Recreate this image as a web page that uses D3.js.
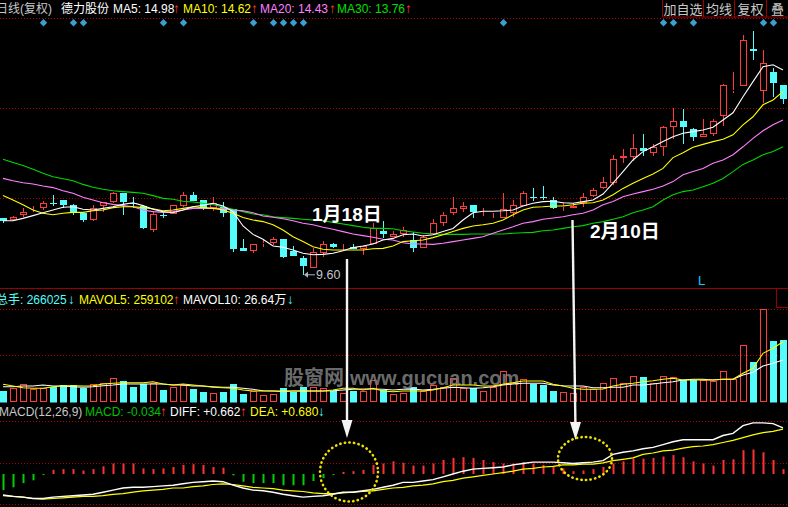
<!DOCTYPE html>
<html><head><meta charset="utf-8">
<script src="https://cdn.jsdelivr.net/npm/d3@7/dist/d3.min.js"></script>
<style>
html,body{margin:0;padding:0;background:#000;overflow:hidden}
svg{display:block}
text{font-family:"Liberation Sans","Noto Sans CJK SC",sans-serif}
</style></head><body>
<svg id="c" width="788" height="507"></svg>
<script>
// ---------------- DATA ----------------
const dayIndex = d3.range(79); // trading days shown, oldest -> newest
const open = [11.01,10.96,11.09,11.24,11.28,11.40,11.47,11.35,11.14,10.97,
 11.33,11.43,11.64,11.40,11.33,10.72,11.10,11.11,11.33,11.60,
 11.47,11.26,11.30,11.24,10.28,10.20,10.38,10.40,10.50,10.20,
 10.03,9.76,10.14,10.38,10.31,10.30,10.25,10.36,10.70,10.54,
 10.61,10.47,10.28,10.61,10.90,11.15,11.24,11.35,11.17,11.06,
 11.03,11.15,11.33,11.54,11.54,11.47,11.29,11.26,11.39,11.58,
 11.78,11.89,12.51,12.54,12.76,12.65,12.80,13.29,13.45,13.25,
 13.05,13.11,13.58,14.20,14.33,15.24,14.20,14.68,14.35];
const close = [10.95,11.04,11.17,11.25,11.39,11.38,11.35,11.18,10.97,11.26,
 11.41,11.64,11.43,11.38,10.78,11.12,11.09,11.34,11.60,11.44,
 11.26,11.39,11.15,10.25,10.20,10.36,10.40,10.49,10.05,10.08,
 9.83,10.16,10.36,10.30,10.32,10.25,10.33,10.76,10.61,10.61,
 10.72,10.28,10.55,10.89,11.10,11.26,11.32,11.18,11.18,11.07,
 11.24,11.34,11.64,11.52,11.52,11.28,11.31,11.33,11.55,11.72,
 11.91,12.49,12.57,12.76,12.70,12.79,13.29,13.45,13.30,13.05,
 13.11,13.45,14.35,14.21,15.47,15.20,14.89,14.40,14.00];
const high = [11.01,11.07,11.26,11.32,11.45,11.60,11.47,11.37,11.14,11.35,
 11.41,11.68,11.64,11.54,11.35,11.20,11.15,11.34,11.66,11.66,
 11.47,11.54,11.41,11.24,10.50,10.36,10.47,10.54,10.50,10.32,
 10.06,10.26,10.45,10.40,10.36,10.37,10.33,10.89,10.95,10.70,
 10.79,10.68,10.60,10.99,11.18,11.54,11.41,11.35,11.26,11.14,
 11.64,11.47,11.70,11.78,11.83,11.55,11.43,11.39,11.64,11.76,
 12.05,12.60,12.74,13.12,13.12,12.87,13.32,13.76,13.75,13.28,
 13.50,13.49,14.37,14.68,15.60,15.70,15.22,14.76,14.35];
const low = [10.90,10.96,11.04,11.18,11.22,11.33,11.26,11.10,10.93,10.95,
 11.18,11.39,11.10,11.26,10.75,10.66,11.03,11.11,11.30,11.44,
 11.22,11.20,11.05,10.18,10.20,10.14,10.30,10.35,10.02,10.08,
 9.60,9.76,10.05,10.28,10.20,10.25,10.09,10.36,10.52,10.54,
 10.55,10.18,10.28,10.61,10.82,11.10,11.18,11.03,11.08,11.03,
 11.03,11.05,11.33,11.44,11.47,11.24,11.20,11.26,11.30,11.55,
 11.74,11.85,12.40,12.45,12.57,12.57,12.57,13.00,12.87,12.95,
 13.04,13.07,13.32,14.14,14.33,14.97,13.89,14.05,13.86];
const ma5 = [10.95,10.95,11.01,11.08,11.15,11.22,11.29,11.30,11.24,11.22,
 11.26,11.30,11.36,11.40,11.33,11.24,11.18,11.15,11.22,11.30,
 11.34,11.39,11.32,11.18,10.82,10.61,10.49,10.32,10.29,10.22,
 10.14,10.10,10.11,10.14,10.20,10.28,10.32,10.37,10.47,10.51,
 10.60,10.62,10.57,10.60,10.68,10.76,10.97,11.15,11.19,11.19,
 11.20,11.22,11.32,11.39,11.43,11.44,11.40,11.39,11.43,11.47,
 11.62,11.89,12.18,12.47,12.68,12.80,12.93,13.05,13.14,13.18,
 13.22,13.29,13.47,13.65,14.05,14.43,14.80,14.85,14.72];
const ma10 = [11.58,11.47,11.35,11.22,11.14,11.10,11.14,11.16,11.16,11.20,
 11.22,11.28,11.30,11.30,11.28,11.25,11.20,11.22,11.26,11.30,
 11.28,11.26,11.22,11.14,11.03,10.97,10.93,10.85,10.72,10.55,
 10.43,10.30,10.24,10.22,10.22,10.22,10.22,10.25,10.26,10.32,
 10.43,10.45,10.47,10.53,10.60,10.68,10.76,10.82,10.85,10.89,
 10.97,11.10,11.22,11.29,11.30,11.32,11.32,11.35,11.39,11.40,
 11.47,11.60,11.76,11.89,12.01,12.12,12.26,12.53,12.65,12.79,
 12.86,12.93,12.99,13.10,13.35,13.55,13.85,13.97,14.18];
const ma20 = [12.01,11.95,11.90,11.87,11.82,11.78,11.70,11.64,11.54,11.47,
 11.40,11.36,11.33,11.30,11.22,11.18,11.16,11.18,11.22,11.26,
 11.26,11.26,11.26,11.22,11.20,11.15,11.07,11.04,11.00,10.95,
 10.89,10.85,10.79,10.74,10.68,10.62,10.58,10.54,10.49,10.47,
 10.40,10.37,10.37,10.36,10.39,10.43,10.47,10.51,10.55,10.64,
 10.72,10.80,10.89,10.93,10.99,11.02,11.05,11.10,11.14,11.22,
 11.35,11.43,11.55,11.62,11.68,11.74,11.82,11.93,12.10,12.18,
 12.26,12.39,12.47,12.60,12.80,13.01,13.20,13.35,13.47];
const ma30 = [12.49,12.41,12.33,12.24,12.14,12.05,12.00,11.95,11.86,11.79,
 11.74,11.70,11.68,11.66,11.64,11.58,11.51,11.49,11.44,11.42,
 11.39,11.35,11.30,11.24,11.18,11.12,11.10,11.05,11.03,11.01,
 10.99,10.97,10.95,10.91,10.87,10.83,10.79,10.76,10.76,10.75,
 10.70,10.67,10.64,10.62,10.61,10.61,10.61,10.62,10.62,10.62,
 10.62,10.64,10.65,10.66,10.70,10.72,10.76,10.80,10.83,10.89,
 10.93,10.99,11.05,11.15,11.22,11.30,11.47,11.60,11.68,11.72,
 11.80,11.89,12.01,12.18,12.36,12.47,12.60,12.68,12.80];
const volume = [45500,57300,75900,52900,57300,64200,71600,71600,57300,75900,
 79000,100600,88900,64200,75900,81600,49900,64200,71600,52900,
 42500,35600,42500,75900,32500,45500,28200,32500,57300,42500,
 64200,64200,57300,45500,35600,45500,45500,93300,49900,32500,
 35600,64200,45500,71600,64200,100600,57300,59900,45500,64200,
 132300,79000,96300,75900,71600,45500,39900,35600,61600,52900,
 79000,100600,79000,110600,106300,81600,110600,105000,93300,93300,
 93300,88900,132300,96300,245100,172700,401300,262400,266025];
const mavol5 = [74600,67200,59900,57300,57300,64200,68500,68500,67200,68500,
 75900,79000,81600,81600,81600,85900,75900,71600,75900,71600,
 67200,61600,59900,57300,49900,45500,45500,45500,42500,45500,
 45500,45500,45500,49900,57300,57300,49900,57300,45500,42500,
 45500,45500,45500,49900,59900,71600,71600,71600,67200,67200,
 74600,81600,88900,88900,88900,74600,67200,57300,52900,52900,
 54200,67200,74600,79000,85900,90200,96300,100600,93300,93300,
 93300,93300,96300,96300,122300,144000,209100,230800,259102];
const mavol10 = [64200,64200,67200,67200,71600,67200,67200,64200,61600,64200,
 68500,71600,75900,75900,75900,75900,75900,71600,71600,67200,
 67200,64200,61600,61600,57300,52900,46900,45500,45500,45500,
 45500,45500,45500,46900,49900,52900,54200,54200,52900,49900,
 52900,54200,49900,52900,57300,61600,59900,57300,59900,64200,
 71600,75900,79000,79000,79000,71600,68500,67200,67200,59900,
 59900,61600,61600,71600,71600,75900,81600,85900,93300,96300,
 96300,93300,96300,96300,115000,126700,154000,165700,180000];
const macd = [-0.23,-0.19,-0.13,-0.09,-0.015,0.06,0.07,0.07,0.05,0.07,
 0.11,0.15,0.15,0.15,0.08,0.07,0.08,0.10,0.13,0.14,
 0.13,0.10,0.09,-0.02,-0.11,-0.13,-0.13,-0.13,-0.16,-0.16,
 -0.16,-0.10,-0.06,-0.01,0.03,0.04,0.06,0.13,0.15,0.18,
 0.16,0.12,0.12,0.15,0.20,0.23,0.24,0.23,0.20,0.17,
 0.15,0.15,0.17,0.15,0.13,0.10,0.08,0.04,0.05,0.07,
 0.10,0.15,0.18,0.22,0.22,0.23,0.25,0.27,0.24,0.18,
 0.15,0.12,0.20,0.21,0.34,0.35,0.31,0.20,0.07];
const diff = [-0.30,-0.32,-0.33,-0.35,-0.35,-0.33,-0.32,-0.31,-0.30,-0.29,
 -0.26,-0.23,-0.20,-0.19,-0.19,-0.18,-0.17,-0.16,-0.14,-0.12,
 -0.11,-0.10,-0.11,-0.16,-0.20,-0.23,-0.24,-0.26,-0.29,-0.31,
 -0.33,-0.32,-0.31,-0.29,-0.26,-0.26,-0.24,-0.22,-0.19,-0.16,
 -0.12,-0.12,-0.10,-0.08,-0.04,0.00,0.04,0.07,0.08,0.09,
 0.10,0.13,0.15,0.17,0.17,0.17,0.16,0.15,0.16,0.17,
 0.19,0.28,0.31,0.33,0.36,0.38,0.42,0.46,0.49,0.49,
 0.49,0.49,0.55,0.58,0.69,0.73,0.73,0.72,0.66];
const dea = [-0.31,-0.32,-0.33,-0.35,-0.36,-0.35,-0.34,-0.33,-0.32,-0.32,
 -0.31,-0.29,-0.28,-0.26,-0.24,-0.23,-0.22,-0.20,-0.20,-0.18,
 -0.17,-0.15,-0.14,-0.15,-0.17,-0.19,-0.20,-0.21,-0.23,-0.24,
 -0.25,-0.27,-0.28,-0.28,-0.27,-0.26,-0.25,-0.24,-0.22,-0.20,
 -0.19,-0.17,-0.16,-0.14,-0.11,-0.09,-0.06,-0.04,-0.02,0.00,
 0.02,0.04,0.07,0.08,0.10,0.11,0.13,0.13,0.14,0.14,
 0.16,0.19,0.21,0.23,0.28,0.30,0.33,0.34,0.37,0.39,
 0.40,0.42,0.45,0.48,0.52,0.56,0.59,0.61,0.64];
const signalDays = [4,7,8,16,18,25,27,28,29,30,50,66,67,69,76,77];
const lowLabel = {day:30, text:"9.60"};
const notes = [{day:34.4, label:"1月18日"},{day:56.95, label:"2月10日"}];

// ---------------- STYLE / SCALES ----------------
const RED = "#ff3c3c", CYAN = "#54fcfc", GRID = "#b00000";
const svg = d3.select("#c");
svg.append("rect").attr("width",788).attr("height",507).attr("fill","#000");

const x = d3.scaleLinear().domain([0,78]).range([3,783]);
const yP = d3.scaleLinear().domain([9.6,15.6]).range([274.8,34.8]);
const yV = d3.scaleLinear().domain([0,400000]).range([401.5,309.3]);
const yM = d3.scaleLinear().domain([0,1]).range([474,404]);

// grid lines
svg.append("g").selectAll("line").data([18.5,108.5,198.5,309.5,355.5,421.5,463.5,504.5]).join("line")
  .attr("x1",0).attr("x2",788).attr("y1",d=>d).attr("y2",d=>d)
  .attr("stroke",GRID).attr("stroke-dasharray","1,2");
svg.append("line").attr("x1",0).attr("x2",788).attr("y1",288.5).attr("y2",288.5).attr("stroke","#9a0000");
svg.append("path").attr("d","M776.5,289V307.5H788").attr("fill","none").attr("stroke","#9a0000");

const isUp = i => close[i] >= open[i];
const cxOf = i => Math.round(x(i));

// ---------------- CANDLES ----------------
const cg = svg.append("g");
cg.selectAll("path.wick").data(dayIndex).join("path").attr("class","wick")
  .attr("fill","none").attr("stroke-width",1)
  .attr("stroke",i=>isUp(i)?RED:CYAN)
  .attr("d",i=>{
    const cx = cxOf(i)+0.5;
    const yh = Math.round(yP(high[i])), yl = Math.round(yP(low[i]));
    const t = Math.round(yP(Math.max(open[i],close[i]))), b = Math.round(yP(Math.min(open[i],close[i])));
    if (isUp(i)) return `M${cx},${yh}V${t}M${cx},${b}V${yl}`;
    return `M${cx},${yh}V${yl}`;
  });
cg.selectAll("rect.body").data(dayIndex).join("rect").attr("class","body")
  .each(function(i){
    const cx = cxOf(i);
    const t = Math.round(yP(Math.max(open[i],close[i]))), b = Math.round(yP(Math.min(open[i],close[i])));
    const s = d3.select(this);
    if (isUp(i)) {
      s.attr("x",cx-2.5).attr("width",6).attr("y",t+0.5).attr("height",Math.max(0,b-t-1))
       .attr("fill","#000").attr("stroke",RED).attr("stroke-width",1);
    } else {
      s.attr("x",cx-3).attr("width",7).attr("y",t).attr("height",Math.max(1,b-t)).attr("fill",CYAN);
    }
  });

// moving averages
const lineP = d3.line().x((d,i)=>x(i)).y(d=>yP(d));
[[ma30,"#00d800"],[ma20,"#ff80ff"],[ma10,"#ffff00"],[ma5,"#ffffff"]].forEach(([arr,col])=>{
  svg.append("path").datum(arr).attr("d",lineP).attr("fill","none").attr("stroke",col)
    .attr("stroke-width",1.1);
});

// signal diamonds
svg.append("g").selectAll("path").data(signalDays).join("path")
  .attr("d",i=>{const cx=x(i)+0.5, cy=22.7; return `M${cx},${cy-3.7}L${cx+3.7},${cy}L${cx},${cy+3.7}L${cx-3.7},${cy}Z`;})
  .attr("fill","#39a0d0");

// low label
{
  const lx = x(lowLabel.day), ly = yP(low[lowLabel.day]);
  svg.append("line").attr("x1",lx+2).attr("x2",lx+12).attr("y1",ly).attr("y2",ly).attr("stroke","#b0b0c0");
  svg.append("path").attr("d",`M${lx+1},${ly}L${lx+5},${ly-3}L${lx+5},${ly+3}Z`).attr("fill","#b0b0c0");
  svg.append("text").attr("x",lx+13).attr("y",ly+4.5).attr("fill","#c0c4d4").attr("font-size",12.5).text(lowLabel.text);
}

// ---------------- VOLUME ----------------
const vg = svg.append("g");
vg.selectAll("rect").data(dayIndex).join("rect").each(function(i){
  const cx = cxOf(i); const t = Math.round(yV(volume[i])); const b = 401;
  const s = d3.select(this);
  if (isUp(i)) s.attr("x",cx-2.5).attr("width",6).attr("y",t+0.5).attr("height",b-t).attr("fill","none").attr("stroke",RED);
  else s.attr("x",cx-3).attr("width",7).attr("y",t).attr("height",b-t+1.5).attr("fill",CYAN);
});

// watermark
svg.append("text").attr("x",284).attr("y",385).attr("fill","#7a7a7a").attr("fill-opacity",0.9)
  .attr("font-size",20).attr("font-weight","bold").attr("font-family","Noto Sans CJK SC").text("股窗网");
svg.append("text").attr("x",350).attr("y",385).attr("fill","#7a7a7a").attr("fill-opacity",0.9)
  .attr("font-size",20).attr("font-weight","bold").text("www.gucuan.com");

const lineV = d3.line().x((d,i)=>x(i)).y(d=>yV(d));
[[mavol10,"#ffffff"],[mavol5,"#ffff00"]].forEach(([arr,col])=>{
  svg.append("path").datum(arr).attr("d",lineV).attr("fill","none").attr("stroke",col).attr("stroke-width",1.1);
});

// ---------------- MACD ----------------
svg.append("g").selectAll("rect").data(dayIndex).join("rect")
  .attr("x",i=>cxOf(i)-0.5).attr("width",2)
  .attr("y",i=>Math.min(yM(0),yM(macd[i]))).attr("height",i=>Math.max(1,Math.abs(yM(macd[i])-yM(0))))
  .attr("fill",i=>macd[i]>=0?"#ff3232":"#00d000");
const lineM = d3.line().x((d,i)=>x(i)).y(d=>yM(d));
svg.append("path").datum(dea).attr("d",lineM).attr("fill","none").attr("stroke","#ffff00").attr("stroke-width",1.2);
svg.append("path").datum(diff).attr("d",lineM).attr("fill","none").attr("stroke","#ffffff").attr("stroke-width",1.4);

// ---------------- HEADERS ----------------
function put(items, y){
  items.forEach(([px,t,c,fs])=>svg.append("text").attr("x",px).attr("y",y).attr("fill",c).attr("font-size",fs||12).text(t));
}
put([[-4,"日线(复权)","#c8c8c8"],[61,"德力股份","#ffffff"],[113,"MA5: 14.98","#ffffff"],[173,"↑",RED,13.5],
     [183,"MA10: 14.62","#ffff00"],[251,"↑",RED,13.5],[260,"MA20: 14.43","#ff80ff"],[329,"↑",RED,13.5],
     [337,"MA30: 13.76","#00e000"],[405,"↑",RED,13.5]], 12.5);
put([[-4,"总手: 266025",CYAN],[68,"↓",CYAN,13.5],[79,"MAVOL5: 259102","#ffff00"],[173,"↑",RED,13.5],
     [183,"MAVOL10: 26.64万","#ffffff"],[287,"↓",CYAN,13.5]], 303.5);
put([[-1,"MACD(12,26,9)","#c8c8c8"],[85,"MACD: -0.034","#00c000"],[160,"↑",RED,13.5],
     [170,"DIFF: +0.662","#ffffff"],[240,"↑",RED,13.5],[250,"DEA: +0.680","#ffff00"],[318,"↓",CYAN,13.5]], 416);

// buttons
const buttons = [["加自选",662,703],["均线",703,734],["复权",734,766],["叠",766,788]];
buttons.forEach(([t,a,b])=>{
  svg.append("rect").attr("x",a+0.5).attr("y",-1).attr("width",b-a).attr("height",18).attr("fill","#000").attr("stroke","#a00000");
  svg.append("text").attr("x",(a+b)/2+0.5).attr("y",13.5).attr("text-anchor","middle").attr("fill","#c8c8c8")
    .attr("font-size",13).attr("font-family","Noto Sans CJK SC").text(t);
});

svg.append("text").attr("x",698).attr("y",285).attr("fill","#10c8ff").attr("font-size",13).text("L");

// ---------------- ANNOTATIONS ----------------
const arrows = [{x1:x(notes[0].day),y1:259,x2:x(notes[0].day),y2:438},
                {x1:x(notes[1].day),y1:220,x2:x(notes[1].day)+3,y2:440}];
arrows.forEach(a=>{
  svg.append("line").attr("x1",a.x1).attr("y1",a.y1).attr("x2",a.x2).attr("y2",a.y2-10)
    .attr("stroke","#f4f4f4").attr("stroke-width",2.4);
  svg.append("path").attr("d",`M${a.x2},${a.y2}L${a.x2-5.5},${a.y2-18}L${a.x2+5.5},${a.y2-18}Z`).attr("fill","#f4f4f4");
});
svg.append("text").attr("x",312).attr("y",221).attr("fill","#fff").attr("font-size",19).attr("font-weight","bold").text(notes[0].label);
svg.append("text").attr("x",590).attr("y",238).attr("fill","#fff").attr("font-size",19).attr("font-weight","bold").text(notes[1].label);

// dotted circles
[[349,472,29,29.5],[585,458.5,27,21.5]].forEach(([cx,cy,rx,ry])=>{
  svg.append("ellipse").attr("cx",cx).attr("cy",cy).attr("rx",rx).attr("ry",ry)
    .attr("fill","none").attr("stroke","#f0e000").attr("stroke-width",2.6)
    .attr("stroke-linecap","round").attr("stroke-dasharray","0.3,4.3");
});
</script>
</body></html>
